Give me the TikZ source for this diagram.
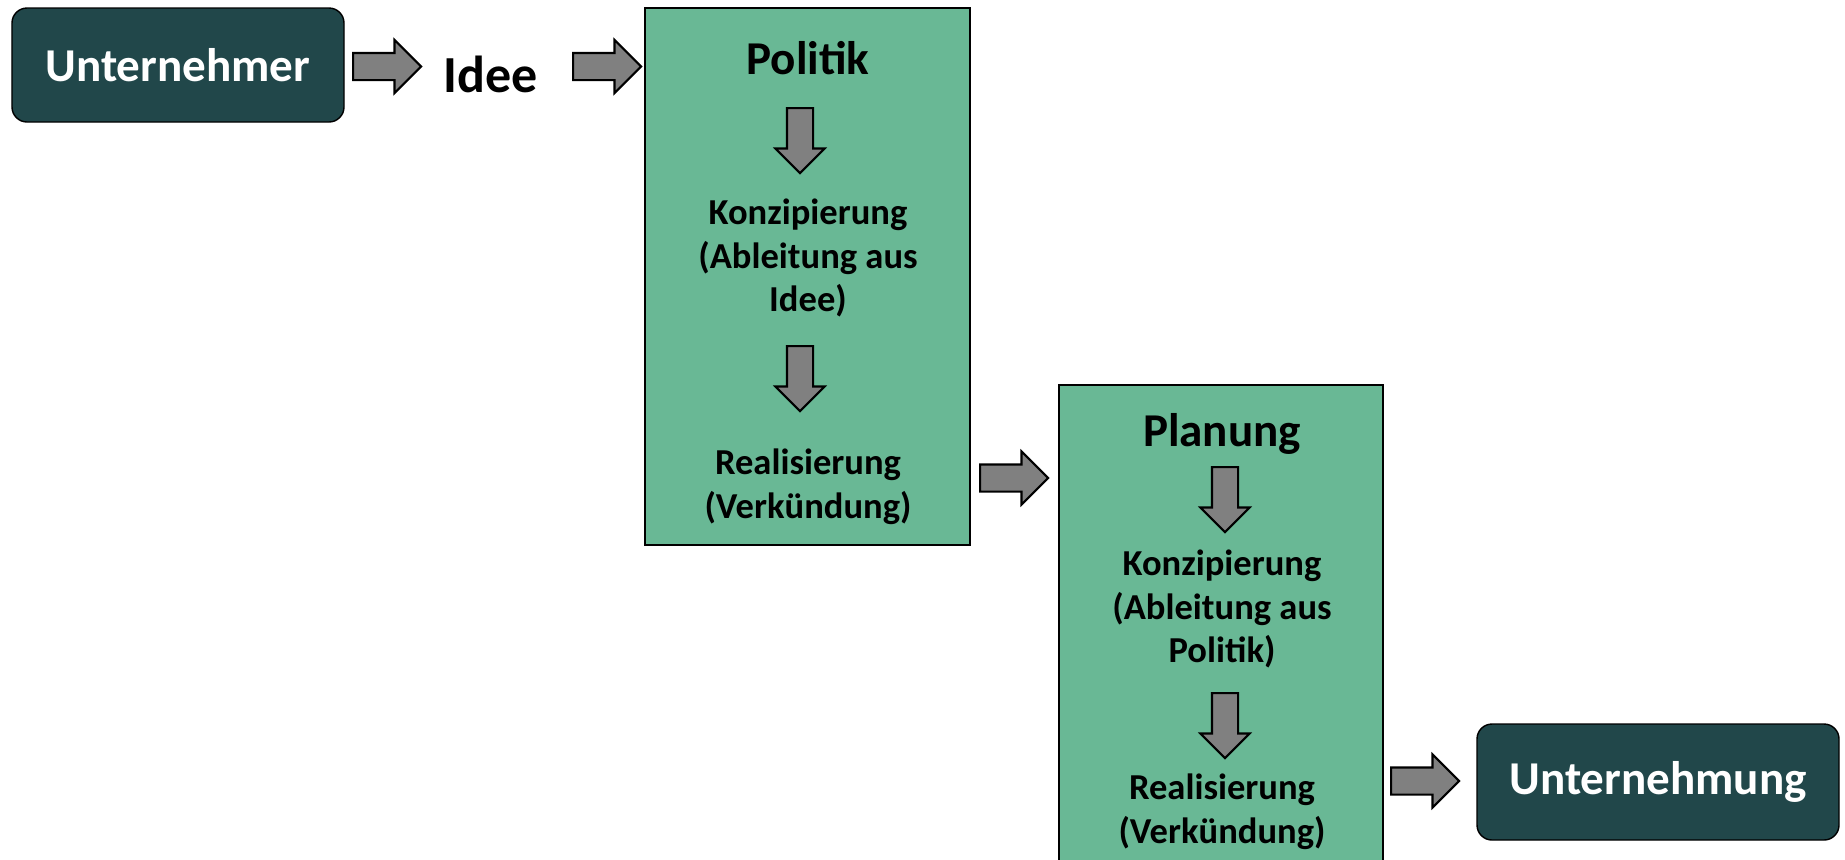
\documentclass[tikz,border=0pt]{standalone}
\usepackage{fontspec}
\setmainfont{Carlito}
\usetikzlibrary{shapes.arrows,positioning}
\definecolor{darkteal}{HTML}{21474A}
\definecolor{stagegreen}{HTML}{69B895}
\begin{document}
\begin{tikzpicture}
[dark/.style={draw=black,fill=darkteal,rounded corners=0.15cm,text=white,
  font=\fontsize{13.4}{16}\selectfont\bfseries,inner sep=0pt},
stage/.style={draw=black,fill=stagegreen,inner sep=0pt},
title/.style={font=\fontsize{13.4}{16}\selectfont\bfseries},
txt/.style={font=\fontsize{10.4}{12.4}\selectfont\bfseries,align=center},
rarr/.style={single arrow,draw=black,fill=gray,line width=0.6pt,inner sep=0.125cm,
  single arrow head extend=0.13cm,minimum height=0.68cm,anchor=tail},
darr/.style={rarr,shape border rotate=270,inner sep=0.12cm,
  single arrow head extend=0.115cm,minimum height=0.65cm}]
\useasboundingbox (0,0) rectangle (18.45,-8.59);
%% start
\node[dark,minimum width=3.32cm,minimum height=1.14cm] (unt) at (1.78,-0.65) {Unternehmer};
\node[rarr] (a1) at (3.52,-0.665) {};
\node[font=\fontsize{14.8}{17}\selectfont\bfseries] (idee) at (4.91,-0.74) {Idee};
\node[rarr] (a2) at (5.72,-0.665) {};
%%%%%%%%%%%%%%%%%%%%%%%%%%%%
%% Politik
\node[stage,minimum width=3.25cm,minimum height=5.37cm] (pol) at (8.075,-2.765) {};
\node[title] (poltitle) at (8.08,-0.58) {Politik};
\node[darr] (pd1) at (8.0,-1.07) {};
\node[txt] (polkonz) at (8.08,-2.58) {Konzipierung\\(Ableitung aus\\Idee)};
\node[darr] (pd2) at (8.0,-3.45) {};
\node[txt] (polreal) at (8.08,-4.87) {Realisierung\\(Verkündung)};
%
\node[rarr] (a3) at (9.79,-4.78) {};
%%%%%%%%%%%%%%%%%%%%%%%%%%%%
%% Planung
\node[stage,minimum width=3.24cm,minimum height=5.15cm] (plan) at (12.21,-6.425) {};
\node[title] (plantitle) at (12.22,-4.34) {Planung};
\node[darr] (qd1) at (12.25,-4.66) {};
\node[txt] (plankonz) at (12.22,-6.09) {Konzipierung\\(Ableitung aus\\Politik)};
\node[darr] (qd2) at (12.25,-6.92) {};
\node[txt] (planreal) at (12.22,-8.12) {Realisierung\\(Verkündung)};
%
\node[rarr] (a4) at (13.90,-7.81) {};
%% end
\node[dark,minimum width=3.62cm,minimum height=1.16cm] (untg) at (16.58,-7.82) {Unternehmung};
\end{tikzpicture}
\end{document}
